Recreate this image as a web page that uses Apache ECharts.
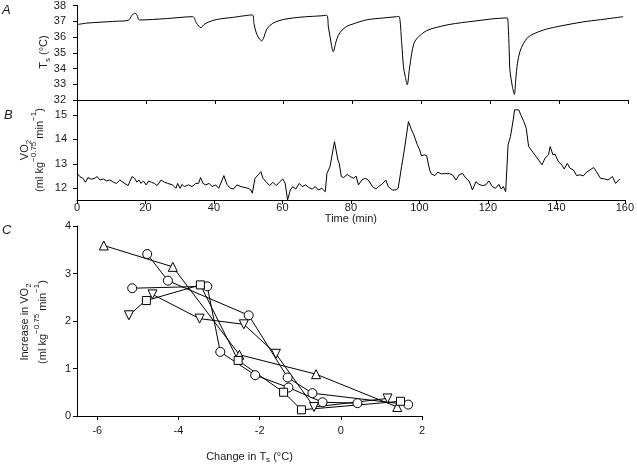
<!DOCTYPE html>
<html><head><meta charset="utf-8">
<script src="https://cdn.jsdelivr.net/npm/echarts@6/dist/echarts.min.js"></script>
<style>html,body{margin:0;padding:0;background:#fff}#c{width:637px;height:465px}</style>
</head><body><div id="c"></div>
<script>
// Panel A: skin temperature trace
const tsTime = [0.1,2.8,6.7,11.5,14.9,15.9,16.8,17.5,18.1,26.0,33.6,34.7,36.0,36.9,38.1,40.5,45.4,50.9,51.4,51.97,52.6,53.6,54.3,55.0,56.0,57.5,59.9,62.8,66.0,70.6,72.5,73.0,73.5,73.9,74.4,75.2,75.9,76.9,78.3,80.3,84.1,89.0,92.8,93.5,94.3,94.8,95.3,95.9,96.5,97.2,97.8,98.6,100.1,101.5,103.5,108.3,115.0,124.7,125.0,125.5,125.7,126.4,127.0,127.4,127.9,128.6,129.6,131.0,132.5,135.4,139.3,147.0,152.0,158.6];
const tsValue = [36.79,36.88,36.94,37.0,37.06,37.36,37.52,37.36,37.08,37.17,37.29,36.88,36.59,36.79,36.94,37.11,37.25,37.4,36.84,36.32,36.0,35.75,36.0,36.46,36.73,36.94,37.11,37.21,37.28,37.34,37.38,36.63,36.0,35.48,35.06,35.69,36.11,36.42,36.67,36.84,37.09,37.21,37.29,37.31,35.57,34.12,33.5,32.98,33.92,34.96,35.57,35.88,36.19,36.4,36.56,36.8,37.0,37.21,37.21,35.17,33.92,32.88,32.36,33.29,34.33,35.06,35.57,35.99,36.19,36.44,36.65,36.96,37.1,37.29];
const tsTicks = [32,33,34,35,36,37,38];

// Panel B: VO2 trace
const vo2Time = [0.1,0.8,1.7,2.5,3.2,4.2,5.2,5.9,6.7,7.7,8.7,9.6,10.6,11.5,12.5,13.4,14.9,16.1,16.8,17.5,18.1,18.7,19.4,20.2,20.9,21.7,22.6,23.4,24.6,25.5,26.5,27.9,28.9,29.4,30.1,30.7,31.3,32.6,33.6,34.7,35.5,36.1,36.8,37.6,38.6,39.5,40.5,41.4,42.9,43.8,44.8,45.7,46.7,47.9,49.1,50.0,50.8,51.2,52.0,52.9,53.7,54.3,55.3,56.3,57.2,58.2,59.1,60.1,60.8,61.5,62.3,63.0,63.9,64.9,65.8,66.8,67.7,68.7,69.6,70.5,71.5,72.5,73.0,73.9,75.2,75.6,76.2,76.6,77.2,77.9,78.9,79.8,80.8,81.5,82.2,83.2,84.2,85.1,85.6,86.3,87.3,88.0,89.0,90.2,90.9,92.1,93.0,93.8,94.8,95.6,96.8,97.7,98.2,98.9,99.4,100.1,100.6,101.4,102.1,103.0,103.5,104.5,105.4,106.4,107.3,108.8,109.7,110.7,111.6,112.6,113.6,114.5,115.5,116.5,117.4,118.4,119.4,120.3,121.3,122.2,123.2,123.9,124.5,125.2,125.9,126.6,127.4,127.8,129.0,129.7,130.5,131.2,131.9,133.4,134.8,135.8,136.7,137.7,138.2,139.0,139.6,140.6,141.6,142.3,143.2,144.0,145.0,145.9,146.9,147.9,148.8,149.8,150.9,151.7,152.9,154.1,155.1,156.4,157.3,158.5];
const vo2Value = [12.61,12.48,12.41,12.25,12.44,12.37,12.41,12.48,12.34,12.38,12.30,12.34,12.25,12.20,12.34,12.25,12.11,12.48,12.41,12.25,12.34,12.20,12.30,12.14,12.30,12.25,12.20,12.11,12.34,12.25,12.20,12.14,12.00,12.20,12.00,12.16,12.07,12.14,12.07,12.20,12.20,12.44,12.20,12.14,12.20,12.07,12.14,12.00,12.52,12.16,12.00,11.97,12.14,12.07,12.03,12.00,11.93,11.80,12.41,12.55,12.68,12.41,12.25,12.11,12.25,12.11,12.25,12.38,12.20,11.52,11.93,12.07,11.97,12.20,12.07,12.14,12.03,11.97,12.07,11.93,12.00,11.86,12.61,12.89,13.91,13.84,13.16,13.02,12.48,12.44,12.57,12.48,12.41,12.50,12.14,12.34,12.41,12.34,12.38,12.07,11.97,12.07,12.16,12.34,12.07,11.93,11.93,12.00,12.89,13.57,14.73,14.39,14.25,13.98,13.78,13.57,13.33,13.37,13.34,12.75,12.59,12.52,12.66,12.59,12.60,12.60,12.55,12.34,12.55,12.61,12.41,12.30,11.93,12.27,12.16,12.11,12.14,12.30,12.07,12.00,12.16,11.97,12.07,11.86,13.78,14.12,14.80,15.21,15.21,14.98,14.73,14.46,13.71,13.43,13.16,12.96,13.23,13.37,13.71,13.37,13.40,13.09,12.96,12.79,13.02,12.82,12.75,12.52,12.55,12.51,12.66,12.75,12.85,12.68,12.41,12.38,12.34,12.48,12.20,12.38];
const vo2Ticks = [12,13,14,15];
const timeTicks = [0,20,40,60,80,100,120,140,160];

// Panel C: increase in VO2 vs change in Ts (one array pair per animal)
const triX = [-5.84,-4.14,-2.50,-0.61,1.39];
const triY = [3.59,3.14,1.29,0.88,0.19];
const circAX = [-4.77,-4.26,-2.27,-1.31,-0.70,1.66];
const circAY = [3.41,2.85,2.12,0.81,0.48,0.24];
const circBX = [-5.14,-3.29,-2.97,-2.11,-1.29,-0.45,0.41];
const circBY = [2.69,2.73,1.35,0.86,0.60,0.29,0.27];
const sqX = [-4.79,-3.46,-2.53,-1.41,-0.97,1.47];
const sqY = [2.43,2.76,1.17,0.50,0.13,0.31];
const invX = [-5.22,-4.64,-3.48,-2.39,-1.60,-0.66,1.15];
const invY = [2.12,2.56,2.05,1.93,1.31,0.19,0.37];
const dTsTicks = [-6,-4,-2,0,2];
const incTicks = [0,1,2,3,4];

const zip = (a,b) => a.map((v,i)=>[v,b[i]]);
const FF = '"Liberation Sans", Arial, sans-serif';
const TXT = '#1a1a1a';
const axLine = {show:true, onZero:false, lineStyle:{color:'#000', width:1}};
const axTick = {show:true, inside:false, length:4, lineStyle:{color:'#000', width:1}};
const lab = {color:TXT, fontSize:11, fontFamily:FF};

const chart = echarts.init(document.getElementById('c'), null, {renderer:'canvas'});
const scatterSeries = (name, xs, ys, symbol, rot, size) => ({
  type:'line', name, xAxisIndex:2, yAxisIndex:2, data: zip(xs,ys),
  symbol, symbolRotate: rot, symbolSize: size, showSymbol:true, animation:false,
  lineStyle:{color:'#000', width:1}, itemStyle:{color:'#fff', borderColor:'#000', borderWidth:1},
  z: 3
});

chart.setOption({
  animation:false,
  backgroundColor:'#fff',
  grid:[
    {left:77, top:5, width:551, height:95},
    {left:77, top:100, width:551, height:100},
    {left:77, top:226, width:345, height:193}
  ],
  xAxis:[
    {gridIndex:0, type:'value', min:0, max:160, interval:20, axisLine:axLine, axisTick:axTick, axisLabel:{show:false}, splitLine:{show:false}},
    {gridIndex:1, type:'value', min:0, max:160, interval:20, axisLine:axLine, axisTick:axTick, axisLabel:Object.assign({margin:2}, lab), splitLine:{show:false},
     name:'Time (min)', nameLocation:'middle', nameGap:13, nameTextStyle:{color:TXT, fontSize:11, fontFamily:FF}},
    {gridIndex:2, type:'value', min:-6.5, max:2, axisLine:axLine,
     axisTick:Object.assign({customValues:dTsTicks}, axTick),
     axisLabel:Object.assign({margin:9, customValues:dTsTicks}, lab), splitLine:{show:false},
     name:'Change in T{s|s} (°C)', nameLocation:'middle', nameGap:33,
     nameTextStyle:{color:TXT, fontSize:11, fontFamily:FF, lineHeight:15,
       rich:{s:{fontSize:8, fontFamily:FF, color:TXT, lineHeight:8, verticalAlign:'bottom'}}}}
  ],
  yAxis:[
    {gridIndex:0, type:'value', min:32, max:38, interval:1, axisLine:axLine, axisTick:axTick, axisLabel:Object.assign({margin:11}, lab), splitLine:{show:false}},
    {gridIndex:1, type:'value', min:11.521, max:15.614, axisLine:axLine,
     axisTick:Object.assign({customValues:vo2Ticks}, axTick),
     axisLabel:Object.assign({margin:10, customValues:vo2Ticks}, lab), splitLine:{show:false}},
    {gridIndex:2, type:'value', min:0, max:4, interval:1, axisLine:axLine, axisTick:axTick, axisLabel:Object.assign({margin:6}, lab), splitLine:{show:false}}
  ],
  series:[
    {type:'line', xAxisIndex:0, yAxisIndex:0, data:zip(tsTime,tsValue), showSymbol:false, symbol:'none', smooth:0.3, lineStyle:{color:'#000', width:1}},
    {type:'line', xAxisIndex:1, yAxisIndex:1, data:zip(vo2Time,vo2Value), showSymbol:false, symbol:'none', lineStyle:{color:'#000', width:1}},
    scatterSeries('tri', triX, triY, 'triangle', 0, 9),
    scatterSeries('circA', circAX, circAY, 'circle', 0, 9),
    scatterSeries('circB', circBX, circBY, 'circle', 0, 9),
    scatterSeries('sq', sqX, sqY, 'rect', 0, 8),
    scatterSeries('inv', invX, invY, 'triangle', 180, 9)
  ],
  graphic:[
    {type:'text', left:2, top:4, style:{text:'A', fontSize:13, fontStyle:'italic', fontFamily:FF, fill:TXT}},
    {type:'text', left:4, top:109, style:{text:'B', fontSize:13, fontStyle:'italic', fontFamily:FF, fill:TXT}},
    {type:'text', left:2, top:224, style:{text:'C', fontSize:13, fontStyle:'italic', fontFamily:FF, fill:TXT}},
    // Panel A y label
    {type:'text', x:44, y:52, rotation:Math.PI/2, style:{text:'T{s|s} (°C)', fontSize:11, fontFamily:FF, fill:TXT, align:'center', verticalAlign:'middle', lineHeight:15,
      rich:{s:{fontSize:8, fontFamily:FF, fill:TXT, lineHeight:8, verticalAlign:'bottom'}}}},
    // Panel B y label
    {type:'text', x:25, y:150, rotation:Math.PI/2, style:{text:'VO{s|2}', fontSize:11, fontFamily:FF, fill:TXT, align:'center', verticalAlign:'middle', lineHeight:15,
      rich:{s:{fontSize:8, fontFamily:FF, fill:TXT, lineHeight:8, verticalAlign:'bottom'}}}},
    {type:'text', x:40, y:150, rotation:Math.PI/2, style:{text:'(ml kg{p|−0.75} min{p|−1})', fontSize:11, fontFamily:FF, fill:TXT, align:'center', verticalAlign:'middle', lineHeight:20,
      rich:{p:{fontSize:8, fontFamily:FF, fill:TXT, lineHeight:8, verticalAlign:'top'}}}},
    // Panel C y label
    {type:'text', x:25, y:322, rotation:Math.PI/2, style:{text:'Increase in VO{s|2}', fontSize:11, fontFamily:FF, fill:TXT, align:'center', verticalAlign:'middle', lineHeight:15,
      rich:{s:{fontSize:8, fontFamily:FF, fill:TXT, lineHeight:8, verticalAlign:'bottom'}}}},
    {type:'text', x:43, y:322, rotation:Math.PI/2, style:{text:'(ml kg{p|−0.75} min{p|−1})', fontSize:11, fontFamily:FF, fill:TXT, align:'center', verticalAlign:'middle', lineHeight:20,
      rich:{p:{fontSize:8, fontFamily:FF, fill:TXT, lineHeight:8, verticalAlign:'top'}}}}
  ]
});
</script></body></html>
